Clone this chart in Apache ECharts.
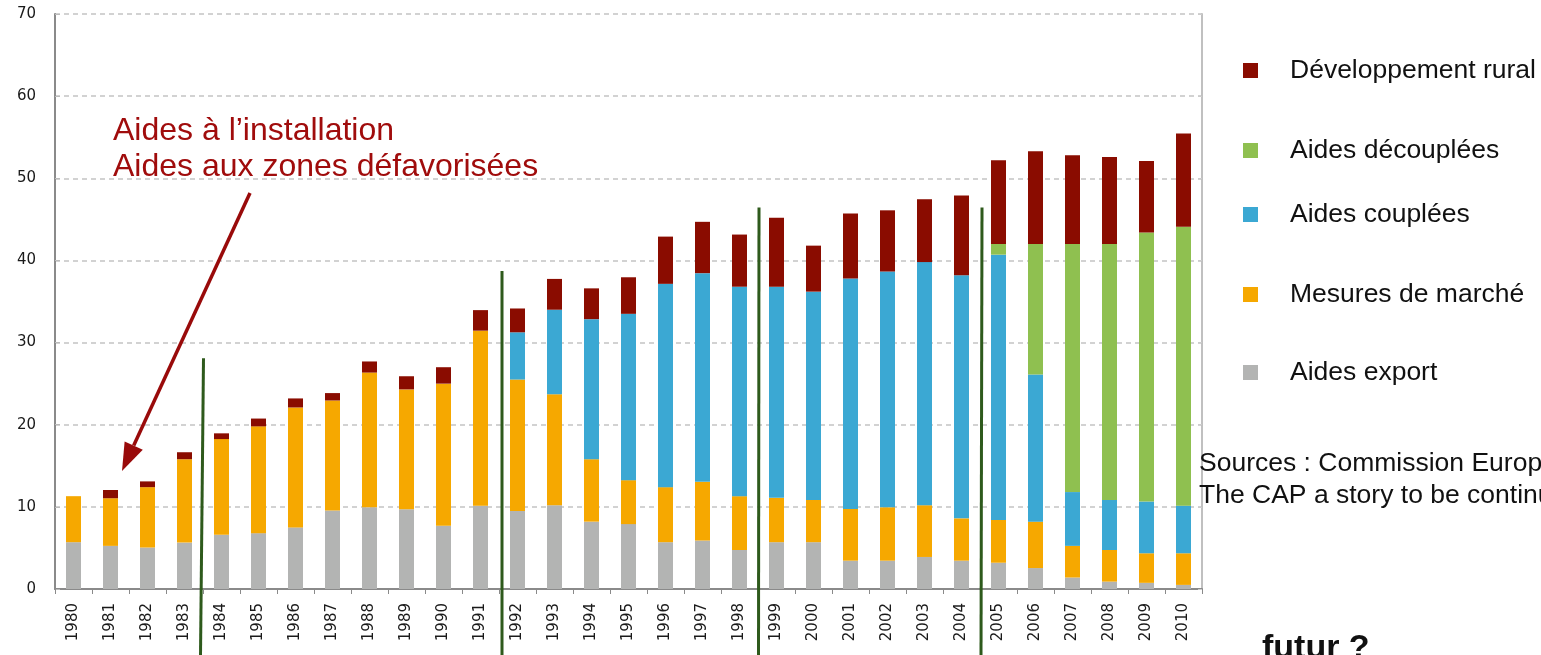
<!DOCTYPE html>
<html><head><meta charset="utf-8">
<script src="https://cdn.jsdelivr.net/npm/echarts@6/dist/echarts.min.js"></script>
<style>html,body{margin:0;padding:0;background:#fff}#c{width:1541px;height:655px}</style>
</head><body><div id="c"></div>
<script>
const years = ['1980','1981','1982','1983','1984','1985','1986','1987','1988','1989','1990','1991','1992','1993','1994','1995','1996','1997','1998','1999','2000','2001','2002','2003','2004','2005','2006','2007','2008','2009','2010'];
const aidesExport = [5.7,5.25,5.05,5.65,6.6,6.8,7.5,9.55,9.95,9.7,7.7,10.15,9.5,10.2,8.2,7.9,5.7,5.9,4.75,5.7,5.7,3.45,3.45,3.9,3.45,3.2,2.55,1.4,0.9,0.75,0.5];
const mesuresMarche = [5.6,5.8,7.35,10.15,11.65,13.0,14.6,13.4,16.4,14.6,17.3,21.3,16.0,13.5,7.6,5.35,6.7,7.15,6.55,5.4,5.15,6.3,6.5,6.3,5.15,5.2,5.65,3.85,3.85,3.6,3.85];
const aidesCouplees = [0,0,0,0,0,0,0,0,0,0,0,0,5.75,10.3,17.05,20.25,24.75,25.4,25.5,25.7,25.35,28.05,28.7,29.6,29.6,32.3,17.9,6.55,6.1,6.3,5.8];
const aidesDecouplees = [0,0,0,0,0,0,0,0,0,0,0,0,0,0,0,0,0,0,0,0,0,0,0,0,0,1.3,15.9,30.2,31.15,32.75,33.95];
const devRural = [0,1.0,0.7,0.85,0.7,0.95,1.1,0.9,1.35,1.6,2.0,2.5,2.9,3.75,3.75,4.45,5.75,6.25,6.35,8.4,5.6,7.9,7.45,7.65,9.7,10.2,11.3,10.8,10.6,8.7,11.35];
const yTicks = [0,10,20,30,40,50,60,70];
// reform boundaries: [index of first year after the line, top value of line]
const reformLines = [[4,28.1],[12,38.7],[19,46.45],[25,46.45]];

const names = ['Aides export','Mesures de marché','Aides couplées','Aides découplées','Développement rural'];
const colors = ['#b3b4b3','#f6a800','#3ba8d3','#8fc050','#8a0c00'];
const values = [aidesExport, mesuresMarche, aidesCouplees, aidesDecouplees, devRural];

const chart = echarts.init(document.getElementById('c'), null, {renderer:'canvas'});
const legendCenters = {'Développement rural':65,'Aides découplées':145,'Aides couplées':209,'Mesures de marché':289,'Aides export':367};
const legends = Object.keys(legendCenters).map(n => ({
  data:[n], left:1238, top:legendCenters[n]-13, icon:'rect', itemWidth:15, itemHeight:15,
  selectedMode:false,
  textStyle:{fontSize:26.5, fontFamily:'Liberation Sans, Arial', color:'#111', padding:[0,0,0,27]}
}));

chart.setOption({
  animation:false,
  backgroundColor:'#fff',
  grid:{left:55, right:339, top:14, bottom:66},
  legend:legends,
  xAxis:{type:'category', data:years,
    axisLine:{lineStyle:{color:'#8a8a8a', width:2}},
    axisTick:{show:true, length:5, lineStyle:{color:'#8a8a8a'}},
    axisLabel:{rotate:90, fontSize:15, fontFamily:'DejaVu Sans', color:'#1a1a1a', margin:14, interval:0}
  },
  yAxis:[{type:'value', min:yTicks[0], max:yTicks[yTicks.length-1], interval:10,
    axisLine:{show:true, lineStyle:{color:'#8a8a8a', width:2}},
    axisTick:{show:true, inside:true, length:5, lineStyle:{color:'#bbb'}},
    axisLabel:{fontSize:15, fontFamily:'DejaVu Sans', color:'#1a1a1a', margin:19},
    splitLine:{show:true, lineStyle:{color:'#c4c4c4', width:1.5, type:[5,4]}}
  },{type:'value', min:0, max:70, interval:10, position:'right',
    axisLine:{show:true, lineStyle:{color:'#c0c0c0', width:2}},
    axisTick:{show:true, inside:true, length:4, lineStyle:{color:'#ccc'}},
    axisLabel:{show:false}, splitLine:{show:false}
  }],
  series: names.map((n,i)=>({
    name:n, type:'bar', stack:'total', data:values[i], barWidth:15,
    itemStyle:{color:colors[i]}
  }))
});

// annotations
const g = [];
reformLines.forEach((r,k)=>{
  const offs = [[0.5,-2.5],[3,3],[1,0.5],[2,1]][k];
  const c0 = chart.convertToPixel({xAxisIndex:0}, years[r[0]-1]);
  const c1 = chart.convertToPixel({xAxisIndex:0}, years[r[0]]);
  const xb = (c0+c1)/2;
  const yt = chart.convertToPixel({yAxisIndex:0}, r[1]);
  g.push({type:'line', z:100, shape:{x1:xb+offs[0], y1:yt, x2:xb+offs[1], y2:655},
    style:{stroke:'#2e5a1c', lineWidth:3}});
});
// arrow
const ax0=250, ay0=193, ax1=122, ay1=471;
const dx=ax1-ax0, dy=ay1-ay0, L=Math.hypot(dx,dy), ux=dx/L, uy=dy/L;
const hl=28, hw=10;
const bx=ax1-hl*ux, by=ay1-hl*uy;
g.push({type:'line', z:100, shape:{x1:ax0,y1:ay0,x2:bx,y2:by}, style:{stroke:'#990a0a', lineWidth:3.5}});
g.push({type:'polygon', z:100, shape:{points:[[ax1,ay1],[bx-hw*uy,by+hw*ux],[bx+hw*uy,by-hw*ux]]}, style:{fill:'#990a0a'}});
g.push({type:'text', z:100, left:113, top:113, style:{text:'Aides à l’installation\nAides aux zones défavorisées',
  fontSize:32, lineHeight:36, fontFamily:'Liberation Sans, Arial', fill:'#a00c0c'}});
g.push({type:'text', z:100, x:1199, y:448, style:{text:'Sources : Commission Européenne,\nThe CAP a story to be continued',
  fontSize:26.5, lineHeight:32, fontFamily:'Liberation Sans, Arial', fill:'#111'}});
g.push({type:'text', z:100, x:1262, y:632, style:{text:'futur ?', fontSize:34, fontWeight:'bold',
  fontFamily:'Liberation Sans, Arial', fill:'#111'}});
chart.setOption({graphic:g});
</script>
</body></html>
